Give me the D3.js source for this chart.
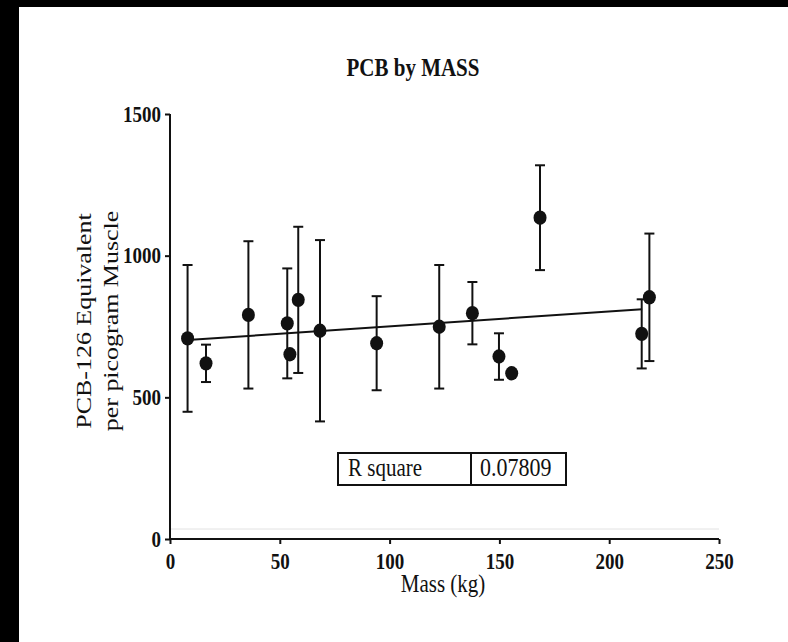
<!DOCTYPE html>
<html>
<head>
<meta charset="utf-8">
<script src="https://cdn.jsdelivr.net/npm/d3@7"></script>
<style>
  html, body { margin: 0; padding: 0; background: #000; }
  svg { display: block; }
</style>
</head>
<body>
<svg id="chart" width="788" height="642"></svg>
<script>
// ---- data ----
const massKg = [8, 16.4, 35.7, 53.4, 54.6, 58.4, 68.3, 94.1, 122.6, 137.7, 149.8, 155.6, 168.5, 214.8, 218.3];
const pcbValues = [708, 620, 791, 761, 652, 844, 735, 691, 749, 797, 644, 585, 1134, 724, 853];
const pcbErrors = [259, 66, 260, 194, 0, 258, 320, 166, 218, 110, 82, 0, 185, 122, 225];
const xTicks = [0, 50, 100, 150, 200, 250];
const yTicks = [0, 500, 1000, 1500];
const regSlope = 0.527;
const regIntercept = 697.8;
const regRange = [8, 215];
const rSquareLabel = "R square";
const rSquareValue = "0.07809";

// ---- layout ----
const svg = d3.select("#chart");
svg.append("rect").attr("x", 19).attr("y", 7).attr("width", 788 - 19).attr("height", 642 - 7).attr("fill", "#fff");

const x = d3.scaleLinear().domain([0, 250]).range([170, 719]);
const y = d3.scaleLinear().domain([0, 1500]).range([539, 114]);

const serif = "'Liberation Serif', 'Times New Roman', serif";
const SY = 1.18; // vertical stretch of the lettering

// faint line just above the axis
svg.append("line")
  .attr("x1", x(0)).attr("x2", x(250))
  .attr("y1", y(0) - 10).attr("y2", y(0) - 10)
  .attr("stroke", "#e2e2e2").attr("stroke-width", 1);

// axes
const xAxis = d3.axisBottom(x).tickValues(xTicks).tickSize(5).tickPadding(7).tickFormat(d3.format("d"));
const yAxis = d3.axisLeft(y).tickValues(yTicks).tickSize(5).tickPadding(4).tickFormat(d3.format("d"));

const gx = svg.append("g").attr("transform", `translate(0,${y(0)})`).call(xAxis);
const gy = svg.append("g").attr("transform", `translate(${x(0)},0)`).call(yAxis);

[gx, gy].forEach(g => {
  g.select(".domain").attr("stroke", "#111").attr("stroke-width", 2);
  g.selectAll(".tick line").attr("stroke", "#111").attr("stroke-width", 2);
  g.selectAll(".tick text")
    .attr("font-family", serif).attr("font-weight", "bold")
    .attr("font-size", 19).attr("fill", "#111")
    .attr("transform", `scale(1,${SY})`);
});
gx.select(".domain").attr("d", `M${x(0)},0H${x(250)}`);
gy.select(".domain").attr("d", `M0,${y(0)}V${y(1500)}`);

// regression line
svg.append("line")
  .attr("x1", x(regRange[0])).attr("y1", y(regIntercept + regSlope * regRange[0]))
  .attr("x2", x(regRange[1])).attr("y2", y(regIntercept + regSlope * regRange[1]))
  .attr("stroke", "#111").attr("stroke-width", 2);

// error bars
const data = massKg.map((m, i) => ({ m, v: pcbValues[i], e: pcbErrors[i] }));
const eb = svg.append("g").attr("stroke", "#111").attr("stroke-width", 2);
data.filter(d => d.e > 0).forEach(d => {
  const cx = x(d.m);
  eb.append("line").attr("x1", cx).attr("x2", cx).attr("y1", y(d.v - d.e)).attr("y2", y(d.v + d.e));
  eb.append("line").attr("x1", cx - 5).attr("x2", cx + 5).attr("y1", y(d.v + d.e)).attr("y2", y(d.v + d.e));
  eb.append("line").attr("x1", cx - 5).attr("x2", cx + 5).attr("y1", y(d.v - d.e)).attr("y2", y(d.v - d.e));
});

// points
svg.append("g").selectAll("ellipse").data(data).join("ellipse")
  .attr("cx", d => x(d.m)).attr("cy", d => y(d.v))
  .attr("rx", 6.5).attr("ry", 7.2)
  .attr("fill", "#111");

// helper for stretched text
function stretchedText(tx, ty, str, size, weight, anchor) {
  return svg.append("text")
    .attr("transform", `translate(${tx},${ty}) scale(1,${SY})`)
    .attr("text-anchor", anchor || "start")
    .attr("font-family", serif).attr("font-weight", weight || "normal").attr("font-size", size)
    .attr("fill", "#111")
    .text(str);
}

// title
stretchedText(413, 76, "PCB by MASS", 21, "bold", "middle");

// y label (stretched along its length)
const yl = svg.append("text")
  .attr("transform", `translate(0,321) rotate(-90) scale(${SY},1)`)
  .attr("text-anchor", "middle")
  .attr("font-family", serif).attr("font-size", 22).attr("fill", "#111");
yl.append("tspan").attr("x", 0).attr("y", 91).text("PCB-126 Equivalent");
yl.append("tspan").attr("x", 0).attr("y", 118).text("per picogram Muscle");

// x label
stretchedText(443, 592, "Mass (kg)", 21, "normal", "middle");

// R square box
const bx = 338, by = 453, bw = 228, bh = 32, bdiv = 471;
svg.append("rect").attr("x", bx).attr("y", by).attr("width", bw).attr("height", bh)
  .attr("fill", "#fff").attr("stroke", "#111").attr("stroke-width", 2);
svg.append("line").attr("x1", bdiv).attr("x2", bdiv).attr("y1", by).attr("y2", by + bh)
  .attr("stroke", "#111").attr("stroke-width", 2);
stretchedText(bx + 10, by + 23, rSquareLabel, 21, "normal", "start");
stretchedText(bdiv + 9, by + 23, rSquareValue, 22, "normal", "start");
</script>
</body>
</html>
